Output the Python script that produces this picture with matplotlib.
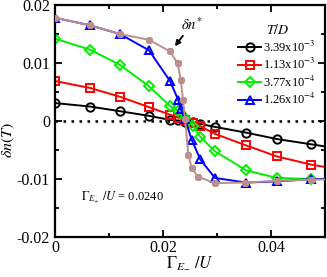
import numpy as np
import matplotlib
matplotlib.use("Agg")
import matplotlib.pyplot as plt
from matplotlib.ticker import MultipleLocator, FuncFormatter

plt.rcParams["font.family"] = ["Liberation Serif", "DejaVu Serif"]
plt.rcParams["mathtext.fontset"] = "stix"
plt.rcParams["axes.unicode_minus"] = False

# values
black_x = [0, 0.0065, 0.012, 0.0174, 0.0213, 0.0228, 0.0241, 0.0256, 0.0269, 0.0296, 0.0354, 0.0411, 0.0474, 0.0537]
black_y = [0.0031, 0.0025, 0.0017, 0.0009, 0.0002, 0.0001, -0.0001, -0.0002, -0.0005, -0.0010, -0.0020, -0.0031, -0.0040, -0.0049]

red_x = [0, 0.0065, 0.012, 0.0174, 0.0213, 0.0228, 0.0241, 0.0256, 0.0269, 0.0296, 0.0354, 0.0411, 0.0474, 0.0537]
red_y = [0.0069, 0.0057, 0.0042, 0.0024, 0.0011, 0.0006, 0.0001, -0.0003, -0.0009, -0.0022, -0.0042, -0.0061, -0.0075, -0.0085]

green_x = [0, 0.0065, 0.012, 0.0174, 0.0213, 0.0228, 0.0241, 0.0256, 0.0269, 0.0296, 0.0354, 0.0411, 0.0474, 0.0537]
green_y = [0.0142, 0.0123, 0.0097, 0.0060, 0.0026, 0.0017, 0.0006, -0.0009, -0.0027, -0.0052, -0.0085, -0.0098, -0.0100, -0.0100]

blue_x = [0, 0.0065, 0.012, 0.0174, 0.0213, 0.0228, 0.0233, 0.0241, 0.0253, 0.0269, 0.0296, 0.0354, 0.0411, 0.0474, 0.0537]
blue_y = [0.0178, 0.0165, 0.0150, 0.0122, 0.0069, 0.0037, 0.0020, 0.0003, -0.0032, -0.0066, -0.0098, -0.0106, -0.0104, -0.0100, -0.0099]

star_x = [0, 0.0065, 0.012, 0.0174, 0.0213, 0.0227, 0.0233, 0.0237, 0.0241, 0.0247, 0.0253, 0.0265, 0.0296, 0.0352, 0.0411, 0.0474, 0.0537]
star_y = [0.0178, 0.0165, 0.0150, 0.0140, 0.0120, 0.0100, 0.0070, 0.0037, 0.0003, -0.0058, -0.0081, -0.0096, -0.0107, -0.0106, -0.0103, -0.0101, -0.0100]

labels = [r"3.39x10$^{-3}$", r"1.13x10$^{-3}$", r"3.77x10$^{-4}$", r"1.26x10$^{-4}$"]

fig = plt.figure(figsize=(3.27, 2.77), dpi=100)
ax = fig.add_axes([0.168, 0.144, 0.826, 0.838])

ax.axhline(0, color="black", linestyle=(0, (1, 2.2)), linewidth=1.8, zorder=1)

series = [
    (black_x, black_y, "black", "o"),
    (red_x, red_y, "#ff0000", "s"),
    (green_x, green_y, "#00ee00", "D"),
    (blue_x, blue_y, "#0000ff", "^"),
]
for (xs, ys, col, mk), lab in zip(series, labels):
    ms = 5 if mk == "D" else 6
    ax.plot(xs, ys, color=col, marker=mk, markersize=ms, markerfacecolor="none",
            markeredgewidth=1.4, linewidth=1.4, label=lab)

ax.plot(star_x, star_y, color="#bc8f8f", marker=(8, 2, 0), markersize=5,
        markeredgewidth=1.8, linewidth=1.4, zorder=3)

ax.set_xlim(0, 0.05)
ax.set_ylim(-0.02, 0.02)
ax.xaxis.set_major_locator(MultipleLocator(0.02))
ax.xaxis.set_minor_locator(MultipleLocator(0.01))
ax.yaxis.set_major_locator(MultipleLocator(0.01))
ax.yaxis.set_minor_locator(MultipleLocator(0.005))

def fmt(v, pos):
    if abs(v) < 1e-9:
        return "0"
    return ("%.2f" % v)
ax.xaxis.set_major_formatter(FuncFormatter(fmt))
ax.yaxis.set_major_formatter(FuncFormatter(fmt))

ax.tick_params(which="both", direction="in", top=True, right=True, width=1.3, labelsize=11.5)
ax.tick_params(which="major", length=5)
ax.tick_params(which="minor", length=3)
ax.tick_params(axis="x", pad=2)
for s in ax.spines.values():
    s.set_linewidth(1.6)

ax.set_ylabel(r"$\delta n(T)$", fontsize=11.5)
ax.yaxis.set_label_coords(-0.14, 0.42)
ax.set_xlabel(r"$\Gamma_{E_{-}}\ /U$", fontsize=12, labelpad=-1)

ax.text(0.0048, -0.0135, r"$\Gamma_{E_{+}}\ /U$ = 0.0240", fontsize=9)

ax.annotate(r"$\delta n^{*}$", xy=(0.0222, 0.0129), xytext=(0.0233, 0.0157),
            fontsize=10.5, arrowprops=dict(arrowstyle="-|>", color="black", lw=1.3,
                                           mutation_scale=8, shrinkA=0, shrinkB=0))

leg = ax.legend(loc="upper right", bbox_to_anchor=(1.0, 0.96), frameon=False,
                fontsize=9, title=r"$T/D$", title_fontsize=10, handlelength=1.8,
                handletextpad=0.2, labelspacing=0.2, borderpad=0.2)

fig.savefig("out.png", dpi=100)
